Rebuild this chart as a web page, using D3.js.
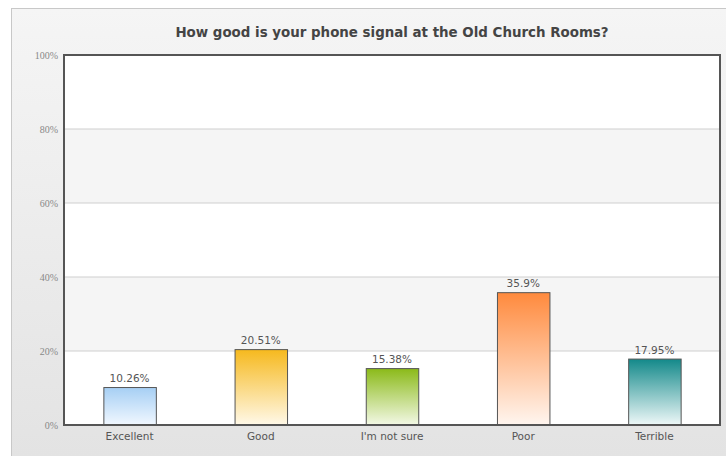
<!DOCTYPE html>
<html><head><meta charset="utf-8">
<script src="https://cdn.jsdelivr.net/npm/d3@7"></script>
<style>body{margin:0;background:#fff}svg{display:block}</style>
</head><body>
<script>
const categories = ["Excellent","Good","I'm not sure","Poor","Terrible"];
const values = [10.26, 20.51, 15.38, 35.9, 17.95];
const valueLabels = ["10.26%","20.51%","15.38%","35.9%","17.95%"];
const yTicks = [0,20,40,60,80,100];
const topColors = ["#a6cff4","#f6b91e","#8bba19","#ff8a3d","#13898a"];
const bottomColors = ["#f2f8ff","#fff9ea","#f4f9e8","#fff6f0","#f0f9f9"];
const title = "How good is your phone signal at the Old Church Rooms?";

const W=726,H=456;
const svg=d3.select("body").append("svg").attr("width",W).attr("height",H);
const defs=svg.append("defs");
const bg=defs.append("linearGradient").attr("id","bg").attr("x1",0).attr("y1",0).attr("x2",0).attr("y2",1);
bg.append("stop").attr("offset","0%").attr("stop-color","#f5f5f5");
bg.append("stop").attr("offset","100%").attr("stop-color","#e3e3e3");
svg.append("rect").attr("x",11.5).attr("y",8.5).attr("width",W-11).attr("height",H-8).attr("fill","url(#bg)").attr("stroke","#c8c8c8");

const m={l:64,r:6,t:55,b:31};
const x=d3.scaleBand().domain(categories).range([m.l,W-m.r]).paddingInner(0.6).paddingOuter(0.3);
const y=d3.scaleLinear().domain([0,100]).range([H-m.b,m.t]);

// bands
const g=svg.append("g");
for(let i=0;i<yTicks.length-1;i++){
  g.append("rect").attr("x",m.l).attr("width",W-m.r-m.l)
   .attr("y",y(yTicks[i+1])).attr("height",y(yTicks[i])-y(yTicks[i+1]))
   .attr("fill", i%2===0?"#ffffff":"#f5f5f5");
}
g.selectAll("line.grid").data(yTicks.slice(1,-1)).join("line")
 .attr("x1",m.l).attr("x2",W-m.r).attr("y1",d=>y(d)).attr("y2",d=>y(d))
 .attr("stroke","#cfcfcf");

const yAxis=d3.axisLeft(y).tickValues(yTicks).tickFormat(d=>d+"%").tickSize(0).tickPadding(6);
const ya=svg.append("g").attr("transform",`translate(${m.l},0)`).call(yAxis);
ya.select(".domain").remove();
ya.selectAll("text").attr("font-family","'Liberation Serif','DejaVu Serif',serif").attr("font-size",10).attr("fill","#888");

categories.forEach((c,i)=>{
  const gr=defs.append("linearGradient").attr("id","g"+i).attr("x1",0).attr("y1",0).attr("x2",0).attr("y2",1);
  gr.append("stop").attr("offset","0%").attr("stop-color",topColors[i]);
  gr.append("stop").attr("offset","100%").attr("stop-color",bottomColors[i]);
});

svg.selectAll("rect.bar").data(values).join("rect").attr("class","bar")
 .attr("x",(d,i)=>x(categories[i])+0.5).attr("y",d=>y(d)+0.5)
 .attr("width",x.bandwidth()).attr("height",d=>y(0)-y(d))
 .attr("fill",(d,i)=>`url(#g${i})`).attr("stroke","#555").attr("stroke-width",1);

svg.selectAll("text.val").data(values).join("text").attr("class","val")
 .attr("x",(d,i)=>x(categories[i])+x.bandwidth()/2).attr("y",d=>y(d)-5)
 .attr("text-anchor","middle").attr("font-family","'DejaVu Sans',Verdana,sans-serif")
 .attr("font-size",10.5).attr("fill","#555").text((d,i)=>valueLabels[i]);

// plot border
svg.append("rect").attr("x",m.l).attr("y",m.t).attr("width",W-m.r-m.l).attr("height",y(0)-m.t)
 .attr("fill","none").attr("stroke","#555").attr("stroke-width",2);

const xAxis=d3.axisBottom(x).tickSize(0).tickPadding(8);
const xa=svg.append("g").attr("transform",`translate(0,${y(0)})`).call(xAxis);
xa.select(".domain").remove();
xa.selectAll("text").attr("font-family","'DejaVu Sans',Verdana,sans-serif").attr("font-size",10.5).attr("fill","#555");

svg.append("text").attr("x",(m.l+W-m.r)/2).attr("y",37).attr("text-anchor","middle")
 .attr("font-family","'DejaVu Sans',Verdana,sans-serif").attr("font-weight","bold").attr("font-size",13.4)
 .attr("fill","#444").text(title);
</script>
</body></html>
